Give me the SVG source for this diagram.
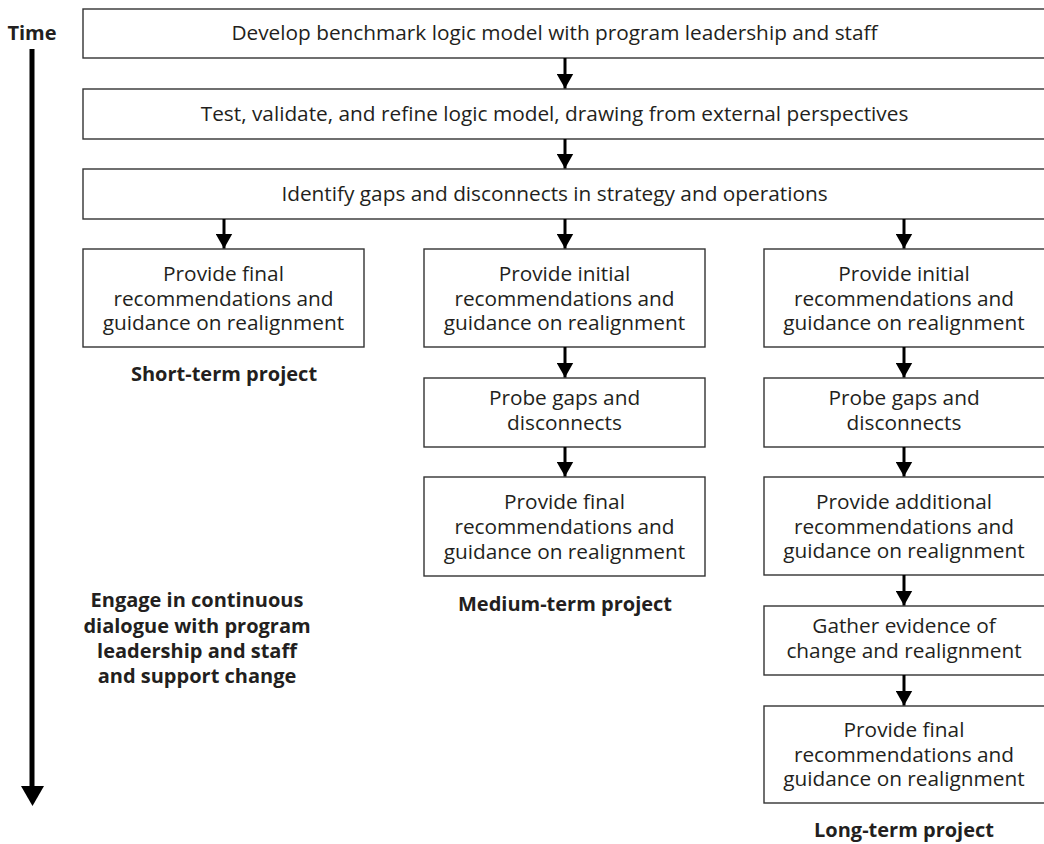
<svg xmlns="http://www.w3.org/2000/svg" width="1044" height="844" viewBox="0 0 1044 844">
  <style>
    .box { fill: #ffffff; stroke: #333333; stroke-width: 1.4; }
    .t { font-family: "Open Sans", "Noto Sans", "DejaVu Sans", sans-serif; font-size: 20.8px; fill: #231f20; text-anchor: middle; }
    .b { font-family: "Open Sans", "Noto Sans", "DejaVu Sans", sans-serif; font-size: 20px; font-weight: bold; fill: #231f20; text-anchor: middle; }
    .conn { stroke: #000000; stroke-width: 3; fill: none; marker-end: url(#ah); }
  </style>
  <defs>
    <marker id="ah" viewBox="0 0 15 17" refX="15" refY="8.5" markerWidth="15" markerHeight="17" markerUnits="userSpaceOnUse" orient="auto">
      <path d="M0,0 L15,8.5 L0,17 z" fill="#000000"/>
    </marker>
  </defs>
  <rect width="1044" height="844" fill="#ffffff"/>

  <!-- time axis -->
  <g id="time-axis">
    <text class="b" x="32" y="40">Time</text>
    <rect x="29.5" y="49" width="5" height="738" fill="#000000"/>
    <path d="M21,786 L44,786 L32.5,806 z" fill="#000000"/>
  </g>

  <!-- full-width steps -->
  <g id="develop">
    <rect class="box" x="83" y="9" width="980" height="49"/>
    <text class="t" x="554.5" y="40">Develop benchmark logic model with program leadership and staff</text>
  </g>
  <g id="test">
    <rect class="box" x="83" y="89" width="980" height="50"/>
    <text class="t" x="554.5" y="121">Test, validate, and refine logic model, drawing from external perspectives</text>
  </g>
  <g id="identify">
    <rect class="box" x="83" y="169" width="980" height="50"/>
    <text class="t" x="554.5" y="201">Identify gaps and disconnects in strategy and operations</text>
  </g>

  <!-- short-term column -->
  <g id="short-final">
    <rect class="box" x="83" y="249" width="281" height="98"/>
    <text class="t" x="223.5" y="281">Provide final</text>
    <text class="t" x="223.5" y="305.5">recommendations and</text>
    <text class="t" x="223.5" y="330">guidance on realignment</text>
  </g>
  <text id="short-label" class="b" x="224" y="381">Short-term project</text>

  <!-- medium-term column -->
  <g id="medium-initial">
    <rect class="box" x="424" y="249" width="281" height="98"/>
    <text class="t" x="564.5" y="281">Provide initial</text>
    <text class="t" x="564.5" y="305.5">recommendations and</text>
    <text class="t" x="564.5" y="330">guidance on realignment</text>
  </g>
  <g id="medium-probe">
    <rect class="box" x="424" y="378" width="281" height="69"/>
    <text class="t" x="564.5" y="405">Probe gaps and</text>
    <text class="t" x="564.5" y="430">disconnects</text>
  </g>
  <g id="medium-final">
    <rect class="box" x="424" y="477" width="281" height="99"/>
    <text class="t" x="564.5" y="509">Provide final</text>
    <text class="t" x="564.5" y="534">recommendations and</text>
    <text class="t" x="564.5" y="558.5">guidance on realignment</text>
  </g>
  <text id="medium-label" class="b" x="565" y="611">Medium-term project</text>

  <!-- long-term column -->
  <g id="long-initial">
    <rect class="box" x="764" y="249" width="300" height="98"/>
    <text class="t" x="904" y="281">Provide initial</text>
    <text class="t" x="904" y="305.5">recommendations and</text>
    <text class="t" x="904" y="330">guidance on realignment</text>
  </g>
  <g id="long-probe">
    <rect class="box" x="764" y="378" width="300" height="69"/>
    <text class="t" x="904" y="405">Probe gaps and</text>
    <text class="t" x="904" y="430">disconnects</text>
  </g>
  <g id="long-additional">
    <rect class="box" x="764" y="477" width="300" height="98"/>
    <text class="t" x="904" y="509">Provide additional</text>
    <text class="t" x="904" y="534">recommendations and</text>
    <text class="t" x="904" y="558">guidance on realignment</text>
  </g>
  <g id="long-gather">
    <rect class="box" x="764" y="606" width="300" height="69"/>
    <text class="t" x="904" y="633">Gather evidence of</text>
    <text class="t" x="904" y="658">change and realignment</text>
  </g>
  <g id="long-final">
    <rect class="box" x="764" y="706" width="300" height="97"/>
    <text class="t" x="904" y="737">Provide final</text>
    <text class="t" x="904" y="762">recommendations and</text>
    <text class="t" x="904" y="786">guidance on realignment</text>
  </g>
  <text id="long-label" class="b" x="904" y="837">Long-term project</text>

  <!-- continuous dialogue note -->
  <g id="dialogue">
    <text class="b" x="197" y="607">Engage in continuous</text>
    <text class="b" x="197" y="632.5">dialogue with program</text>
    <text class="b" x="197" y="658">leadership and staff</text>
    <text class="b" x="197" y="683">and support change</text>
  </g>

  <!-- connectors -->
  <g id="connectors">
    <line class="conn" x1="565" y1="58" x2="565" y2="88.5"/>
    <line class="conn" x1="565" y1="139" x2="565" y2="168.5"/>
    <line class="conn" x1="224" y1="219" x2="224" y2="248.5"/>
    <line class="conn" x1="565" y1="219" x2="565" y2="248.5"/>
    <line class="conn" x1="904" y1="219" x2="904" y2="248.5"/>
    <line class="conn" x1="565" y1="347" x2="565" y2="377.5"/>
    <line class="conn" x1="565" y1="447" x2="565" y2="476.5"/>
    <line class="conn" x1="904" y1="347" x2="904" y2="377.5"/>
    <line class="conn" x1="904" y1="447" x2="904" y2="476.5"/>
    <line class="conn" x1="904" y1="575" x2="904" y2="605.5"/>
    <line class="conn" x1="904" y1="675" x2="904" y2="705.5"/>
  </g>
</svg>
